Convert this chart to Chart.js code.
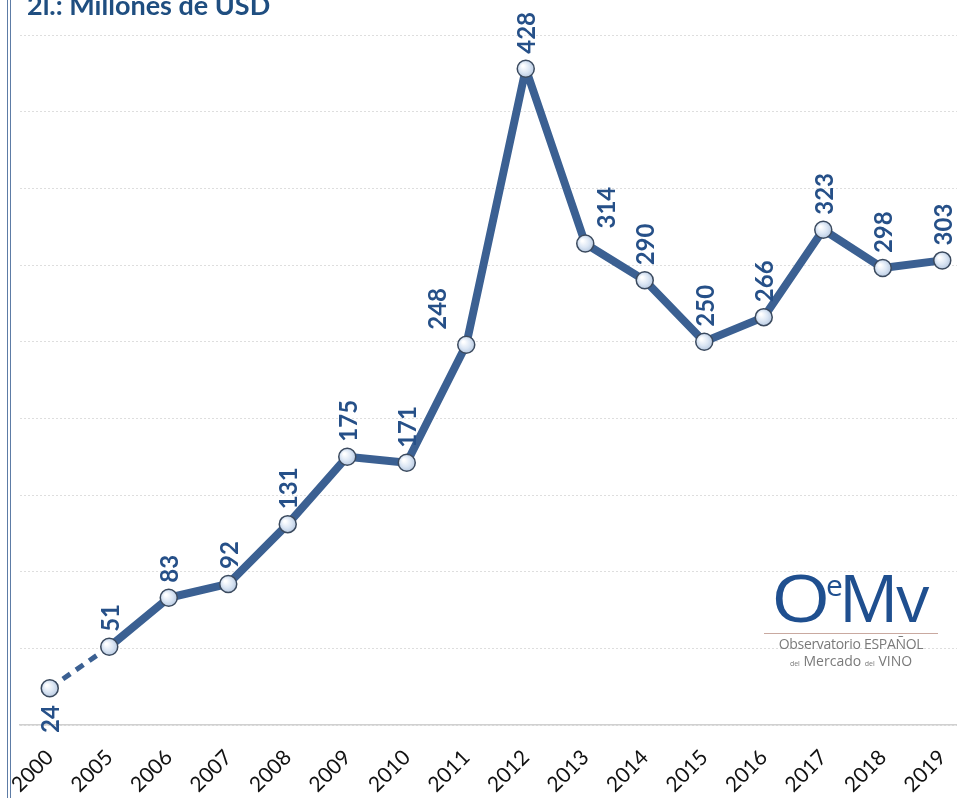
<!DOCTYPE html>
<html>
<head>
<meta charset="utf-8">
<script src="https://cdn.jsdelivr.net/npm/chart.js@4.4.1/dist/chart.umd.min.js"></script>
<style>
  html, body { margin: 0; padding: 0; background: #fff; overflow: hidden; }
  #wrap { position: relative; width: 957px; height: 798px; overflow: hidden; }
  #stat { position: absolute; left: 0; top: 0; }
  .edge { position: absolute; top: 0; bottom: 0; width: 1px; background: #5d7ca6; }
  #title { position: absolute; left: 27px; top: -12px; font: bold 27px Lato, sans-serif; color: #1f4e80; white-space: nowrap; }
  #logo { position: absolute; left: 762px; top: 548px; width: 178px; text-align: center; font-family: "Open Sans", sans-serif; color: #7a7a7a; }
  #logo .mark { font-size: 66px; line-height: 74px; color: #1f4f8f; letter-spacing: -2px; }
  #logo .mark .o { display: inline-block; transform: scaleX(1.15); margin-right: 4px; }
  #logo .mark sup { font-size: 30px; vertical-align: 26px; margin: 0 -2px; }
  #logo .rule { height: 1px; background: #c9a9a0; margin: 0 2px 1px; }
  #logo .l1 { font-size: 14px; line-height: 18px; letter-spacing: -0.3px; }
  #logo .l2 { font-size: 14px; line-height: 16px; }
  #logo small { font-size: 7px; }
</style>
</head>
<body>
<div id="wrap">
  <canvas id="stat" width="972" height="798"></canvas>
  <div class="edge" style="left:7px"></div>
  <div class="edge" style="left:10px"></div>
  <div id="title">2l.: Millones de USD</div>
  <div id="logo">
    <div class="mark"><span class="o">O</span><sup>e</sup>Mv</div>
    <div class="rule"></div>
    <div class="l1">Observatorio ESPAÑOL</div>
    <div class="l2"><small>del</small> Mercado <small>del</small> VINO</div>
  </div>
</div>
<script>
var years = ['2000', '2005', '2006', '2007', '2008', '2009', '2010', '2011',
             '2012', '2013', '2014', '2015', '2016', '2017', '2018', '2019'];
var millonesUSD = [24, 51, 83, 92, 131, 175, 171, 248, 428, 314, 290, 250, 266, 323, 298, 303];
var yTicks = [0, 50, 100, 150, 200, 250, 300, 350, 400, 450];

var lineBlue = 'rgb(59, 96, 146)';
var labelBlue = 'rgb(38, 80, 136)';

// rotated value labels above each point (the first one goes under it);
// a couple are pushed sideways so they stay clear of the line
var labelShift = { 7: -30, 9: 20 };
var valueLabels = {
    id: 'valueLabels',
    afterDatasetsDraw: function (chart) {
        var c = chart.ctx;
        var meta = chart.getDatasetMeta(0);
        c.save();
        c.font = 'bold 24px Lato, sans-serif';
        c.fillStyle = labelBlue;
        c.textBaseline = 'middle';
        meta.data.forEach(function (pt, i) {
            c.save();
            c.translate(pt.x + 2 + (labelShift[i] || 0), pt.y);
            c.rotate(-Math.PI / 2);
            if (i === 0) {
                c.textAlign = 'right';
                c.fillText(String(millonesUSD[i]), -17, 0);
            } else {
                c.textAlign = 'left';
                c.fillText(String(millonesUSD[i]), 15, 0);
            }
            c.restore();
        });
        c.restore();
    }
};

// glossy round markers
var glossyPoints = {
    id: 'glossyPoints',
    afterDatasetsDraw: function (chart) {
        var c = chart.ctx;
        var meta = chart.getDatasetMeta(0);
        meta.data.forEach(function (pt) {
            var g = c.createRadialGradient(pt.x - 3, pt.y - 3, 1, pt.x, pt.y, 9);
            g.addColorStop(0, '#ffffff');
            g.addColorStop(0.55, '#dbe6f4');
            g.addColorStop(1, '#b6c8e0');
            c.beginPath();
            c.arc(pt.x, pt.y, 8.5, 0, Math.PI * 2);
            c.fillStyle = g;
            c.fill();
            c.lineWidth = 1.5;
            c.strokeStyle = '#3b4a5e';
            c.stroke();
        });
    }
};

var ctx = document.getElementById('stat').getContext('2d');
var chart = new Chart(ctx, {
    type: 'line',
    data: {
        labels: years,
        datasets: [{
            data: millonesUSD,
            borderColor: lineBlue,
            borderWidth: 8,
            borderJoinStyle: 'round',
            pointRadius: 0,
            tension: 0,
            segment: {
                borderDash: function (s) { return s.p0DataIndex === 0 ? [9, 7] : undefined; },
                borderWidth: function (s) { return s.p0DataIndex === 0 ? 5 : undefined; }
            }
        }]
    },
    options: {
        responsive: false,
        animation: false,
        layout: { padding: { left: 20, right: 0, top: 35, bottom: 0 } },
        plugins: {
            legend: { display: false },
            tooltip: { enabled: false }
        },
        scales: {
            x: {
                offset: true,
                grid: { display: false, drawTicks: false },
                border: { display: true, color: '#d0d0d0', width: 1.5 },
                ticks: {
                    color: '#111',
                    font: { family: 'Lato, sans-serif', size: 21 },
                    minRotation: 45,
                    maxRotation: 45,
                    padding: 20
                },
                afterFit: function (scale) {
                    scale.height = 73;
                    scale.paddingLeft = 0;
                    scale.paddingRight = 0;
                }
            },
            y: {
                display: true,
                min: 0,
                max: 450,
                afterBuildTicks: function (scale) {
                    scale.ticks = yTicks.map(function (v) { return { value: v }; });
                },
                ticks: { display: false },
                border: { display: false, dash: [2, 2] },
                grid: { color: '#dedede', lineWidth: 1, drawTicks: false },
                afterFit: function (scale) { scale.width = 0; }
            }
        }
    },
    plugins: [glossyPoints, valueLabels]
});
</script>
</body>
</html>
